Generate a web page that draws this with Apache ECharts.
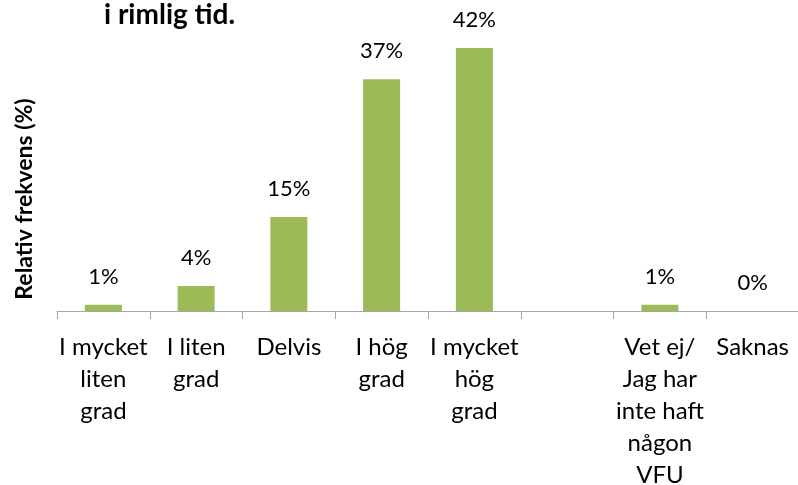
<!DOCTYPE html>
<html>
<head>
<meta charset="utf-8">
<script src="https://cdn.jsdelivr.net/npm/echarts@6/dist/echarts.min.js"></script>
<style>
  html, body { margin: 0; padding: 0; background: #fff; }
  #chart { width: 798px; height: 485px; }
</style>
</head>
<body>
<div id="chart"></div>
<script>
// categories (blank slot is an empty column in the original)
const categories = [
  'I mycket\nliten\ngrad',
  'I liten\ngrad',
  'Delvis',
  'I hög\ngrad',
  'I mycket\nhög\ngrad',
  '',
  'Vet ej/\nJag har\ninte haft\nnågon\nVFU',
  'Saknas'
]
const values = [1, 4, 15, 37, 42, '-', 1, 0]

const font = 'Lato, "Open Sans", sans-serif'
const chart = echarts.init(document.getElementById('chart'))

chart.setOption({
  animation: false,
  title: {
    text: 'i rimlig tid.',
    left: 99,
    top: -4,
    textStyle: { fontFamily: font, fontSize: 28, fontWeight: 'bold', color: '#000' }
  },
  graphic: [{
    type: 'text',
    x: 25,
    y: 199,
    rotation: Math.PI / 2,
    style: {
      text: 'Relativ frekvens (%)',
      fontFamily: font,
      fontSize: 23,
      fontWeight: 'bold',
      fill: '#000',
      align: 'center',
      verticalAlign: 'middle'
    }
  }],
  grid: { left: 57, right: -1, top: 48, bottom: 174, outerBoundsMode: 'none', containLabel: false },
  xAxis: {
    type: 'category',
    data: categories,
    axisLine: { lineStyle: { color: '#a6a6a6', width: 1 } },
    axisTick: { show: true, length: 8, lineStyle: { color: '#a6a6a6' } },
    axisLabel: {
      interval: 0,
      margin: 20,
      color: '#000',
      fontFamily: font,
      fontSize: 24,
      lineHeight: 32,
      align: 'center'
    }
  },
  yAxis: {
    type: 'value',
    min: 0,
    max: 42,
    axisLine: { show: false },
    axisTick: { show: false },
    axisLabel: { show: false },
    splitLine: { show: false }
  },
  series: [{
    type: 'bar',
    data: values,
    barWidth: 37,
    itemStyle: { color: '#9bbb59' },
    label: {
      show: true,
      position: 'top',
      distance: 17,
      formatter: '{c}%',
      color: '#000',
      fontFamily: font,
      fontSize: 22
    }
  }]
})
</script>
</body>
</html>
